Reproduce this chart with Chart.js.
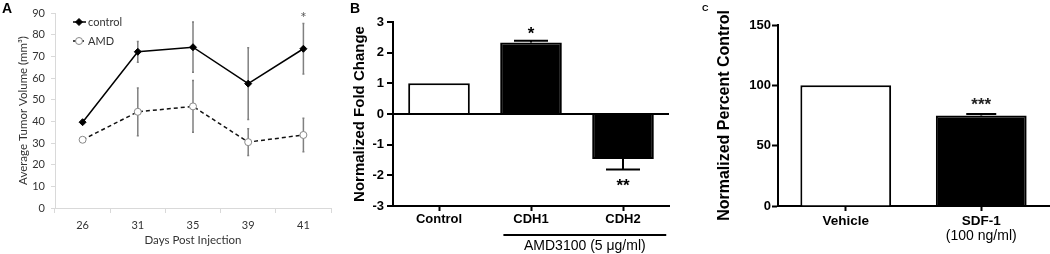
<!DOCTYPE html>
<html>
<head>
<meta charset="utf-8">
<script src="https://cdn.jsdelivr.net/npm/chart.js@4.4.0/dist/chart.umd.min.js"></script>
<style>
body { margin: 0; background: #fff; width: 1050px; height: 254px; overflow: hidden; position: relative; font-family: 'Liberation Sans', Arial, sans-serif; }
canvas { position: absolute; top: 0; }
.lbl { position: absolute; font-weight: bold; color: #000; line-height: 1; }
</style>
</head>
<body>
<canvas id="cA" width="345" height="254" style="left:0"></canvas>
<canvas id="cB" width="350" height="254" style="left:345px"></canvas>
<canvas id="cC" width="355" height="254" style="left:695px"></canvas>
<div class="lbl" style="left:2px;top:1px;font-size:14px">A</div>
<div class="lbl" style="left:350px;top:1px;font-size:14px">B</div>
<div class="lbl" style="left:702px;top:4px;font-size:9px">C</div>
<script>
// panel A - tumour volume
const daysA = ['26', '31', '35', '39', '41'];
const controlA = [39.6, 72.1, 74.2, 57.4, 73.5];
const controlErrA = [0, 4.8, 11.6, 16.6, 11.7];
const amdA = [31.5, 44.4, 46.9, 30.4, 33.7];
const amdErrA = [0, 11.0, 11.9, 6.2, 7.7];
const sigA = ['', '', '', '', '*'];

// panel B - fold change
const foldLabels = ['Control', 'CDH1', 'CDH2'];
const foldVals = [1.0, 2.33, -1.47];
const foldErr = [0, 0.06, 0.34];
const foldSig = ['', '*', '**'];
const groupLabel = 'AMD3100 (5 \u03bcg/ml)';
const groupSpan = [1, 2];

// panel C - percent control
const pctLabels = ['Vehicle', 'SDF-1'];
const pctSub = ['', '(100 ng/ml)'];
const pctVals = [100, 75.1];
const pctErr = [0, 1.1];
const pctSig = ['', '***'];

Chart.defaults.animation = false;
Chart.defaults.devicePixelRatio = 1;

const ARIAL = "'Liberation Sans', Arial, sans-serif";
const LATO = "Lato, 'Open Sans', sans-serif";

function drawErr(chart, o) {
    const ctx = chart.ctx, ys = chart.scales.y;
    chart.data.datasets.forEach((ds, di) => {
        const meta = chart.getDatasetMeta(di);
        meta.data.forEach((el, i) => {
            const v = ds.data[i], e = ds.err ? ds.err[i] : 0;
            const dir = v < 0 ? -1 : 1;
            const y1 = ys.getPixelForValue(v + dir * e);
            const y0 = ys.getPixelForValue(o.both ? v - dir * e : v);
            ctx.save();
            if (e) {
                ctx.strokeStyle = o.color; ctx.lineWidth = o.width;
                ctx.beginPath();
                ctx.moveTo(el.x, y0); ctx.lineTo(el.x, y1);
                ctx.moveTo(el.x - o.cap / 2, y1); ctx.lineTo(el.x + o.cap / 2, y1);
                if (o.both) { ctx.moveTo(el.x - o.cap / 2, y0); ctx.lineTo(el.x + o.cap / 2, y0); }
                ctx.stroke();
            }
            const s = ds.sig && ds.sig[i];
            if (s) {
                ctx.font = o.sigFont; ctx.fillStyle = o.sigColor;
                ctx.textAlign = 'center'; ctx.textBaseline = 'alphabetic';
                const yc = y1 - dir * o.sigGap;
                ctx.fillText(s, el.x, yc + 0.58 * o.sigSize);
            }
            ctx.restore();
        });
    });
}

const errBars = {
    id: 'errBars',
    beforeDatasetsDraw(chart, args, o) { if (o.before) drawErr(chart, o); },
    afterDatasetsDraw(chart, args, o) { if (!o.before) drawErr(chart, o); }
};

// small inset legend for panel A
const legendA = {
    id: 'legendA',
    afterDraw(chart) {
        const ctx = chart.ctx, a = chart.chartArea;
        chart.data.datasets.forEach((ds, i) => {
            const x = a.left + 18, y = a.top + 9 + i * 19;
            ctx.save();
            ctx.strokeStyle = ds.borderColor; ctx.lineWidth = ds.borderWidth;
            ctx.setLineDash(ds.borderDash || []);
            ctx.beginPath(); ctx.moveTo(x, y); ctx.lineTo(x + 13, y); ctx.stroke();
            ctx.setLineDash([]);
            ctx.fillStyle = ds.pointBackgroundColor;
            ctx.strokeStyle = ds.pointBorderColor; ctx.lineWidth = ds.pointBorderWidth;
            const r = ds.pointRadius, cx = x + 6;
            ctx.beginPath();
            if (ds.pointStyle === 'rectRot') {
                ctx.moveTo(cx, y - r); ctx.lineTo(cx + r, y); ctx.lineTo(cx, y + r); ctx.lineTo(cx - r, y); ctx.closePath();
            } else {
                ctx.arc(cx, y, r, 0, Math.PI * 2);
            }
            ctx.fill(); ctx.stroke();
            ctx.font = '11px ' + LATO; ctx.fillStyle = '#333';
            ctx.textAlign = 'left'; ctx.textBaseline = 'middle';
            ctx.fillText(ds.label, x + 15, y);
            ctx.restore();
        });
    }
};

new Chart(document.getElementById('cA'), {
    type: 'line',
    data: {
        labels: daysA,
        datasets: [
            { label: 'control', data: controlA, err: controlErrA, sig: sigA,
              borderColor: '#000', borderWidth: 1.5, pointStyle: 'rectRot', pointRadius: 3.5,
              pointBackgroundColor: '#000', pointBorderColor: '#000', pointBorderWidth: 1 },
            { label: 'AMD', data: amdA, err: amdErrA,
              borderColor: '#111', borderWidth: 1.5, borderDash: [4, 3], pointStyle: 'circle', pointRadius: 3.5,
              pointBackgroundColor: '#fff', pointBorderColor: '#888', pointBorderWidth: 1 }
        ]
    },
    options: {
        responsive: false,
        layout: { padding: { top: 13, right: 14, left: 0, bottom: 0 } },
        plugins: {
            legend: { display: false }, tooltip: { enabled: false },
            errBars: { before: true, both: true, color: '#808080', width: 1.5, cap: 2,
                       sigFont: '15px ' + LATO, sigColor: '#555', sigSize: 15, sigGap: 9 }
        },
        scales: {
            x: {
                offset: true,
                grid: { offset: true, drawOnChartArea: false, tickLength: 5, color: '#d9d9d9' },
                border: { color: '#d9d9d9', width: 1 },
                ticks: { color: '#333', font: { family: LATO, size: 11 }, padding: 6 },
                title: { display: true, text: 'Days Post Injection', color: '#333',
                         font: { family: LATO, size: 11.5 }, padding: { top: 0, bottom: 7 } },
                afterFit: s => { s.height = 46; }
            },
            y: {
                min: 0, max: 90,
                grid: { drawOnChartArea: false, tickLength: 4, color: '#d9d9d9' },
                border: { color: '#d9d9d9', width: 1 },
                ticks: { stepSize: 10, color: '#333', font: { family: LATO, size: 11 }, padding: 6 },
                title: { display: true, text: 'Average Tumor Volume (mm\u00b3)', color: '#333',
                         font: { family: LATO, size: 11.5 }, padding: { top: 16, bottom: 0 } },
                afterFit: s => { s.width = 55; }
            }
        }
    },
    plugins: [errBars, legendA]
});

// group bar under CDH1/CDH2
const groupB = {
    id: 'groupB',
    afterDraw(chart) {
        const ctx = chart.ctx, xs = chart.scales.x;
        const w = xs.getPixelForValue(1) - xs.getPixelForValue(0);
        const x0 = xs.getPixelForValue(groupSpan[0]) - 0.3 * w;
        const x1 = xs.getPixelForValue(groupSpan[1]) + 0.47 * w;
        ctx.save();
        ctx.strokeStyle = '#000'; ctx.lineWidth = 2;
        ctx.beginPath(); ctx.moveTo(x0, 235); ctx.lineTo(x1, 235); ctx.stroke();
        ctx.font = '14px ' + ARIAL; ctx.fillStyle = '#000';
        ctx.textAlign = 'center'; ctx.textBaseline = 'middle';
        ctx.fillText(groupLabel, (x0 + x1) / 2, 246);
        ctx.restore();
    }
};

new Chart(document.getElementById('cB'), {
    type: 'bar',
    data: {
        labels: foldLabels,
        datasets: [{ data: foldVals, err: foldErr, sig: foldSig,
                     backgroundColor: ['#fff', '#000', '#000'], borderColor: '#000', borderWidth: 2,
                     barPercentage: 0.67, categoryPercentage: 1 }]
    },
    options: {
        responsive: false,
        layout: { padding: { top: 22, right: 26, left: 0, bottom: 0 } },
        plugins: {
            legend: { display: false }, tooltip: { enabled: false },
            errBars: { before: false, both: false, color: '#000', width: 2, cap: 34,
                       sigFont: 'bold 17px ' + ARIAL, sigColor: '#000', sigSize: 17, sigGap: 12 }
        },
        scales: {
            x: {
                grid: { offset: false, drawOnChartArea: false, tickLength: 5, tickColor: '#000', tickWidth: 2 },
                border: { color: '#000', width: 2 },
                ticks: { color: '#000', font: { family: ARIAL, size: 13, weight: 'bold' }, padding: 1 },
                afterFit: s => { s.height = 48; }
            },
            y: {
                min: -3, max: 3,
                grid: { color: c => c.tick && c.tick.value === 0 ? '#000' : 'rgba(0,0,0,0)', lineWidth: 2,
                        tickLength: 6, tickColor: '#000', tickWidth: 2 },
                border: { color: '#000', width: 2 },
                ticks: { stepSize: 1, color: '#000', font: { family: ARIAL, size: 13, weight: 'bold' }, padding: 3 },
                title: { display: true, text: 'Normalized Fold Change', color: '#000',
                         font: { family: ARIAL, size: 15, weight: 'bold' }, padding: { top: 6, bottom: 0 } },
                afterFit: s => { s.width = 48; }
            }
        }
    },
    plugins: [errBars, groupB]
});

// second line under C tick labels
const subC = {
    id: 'subC',
    afterDraw(chart) {
        const ctx = chart.ctx, xs = chart.scales.x;
        ctx.save();
        ctx.font = '14px ' + ARIAL; ctx.fillStyle = '#000';
        ctx.textAlign = 'center'; ctx.textBaseline = 'middle';
        pctSub.forEach((t, i) => { if (t) ctx.fillText(t, xs.getPixelForValue(i), 236); });
        ctx.restore();
    }
};

new Chart(document.getElementById('cC'), {
    type: 'bar',
    data: {
        labels: pctLabels,
        datasets: [{ data: pctVals, err: pctErr, sig: pctSig,
                     backgroundColor: ['#fff', '#000'], borderColor: '#000', borderWidth: 2,
                     barPercentage: 0.67, categoryPercentage: 1 }]
    },
    options: {
        responsive: false,
        layout: { padding: { top: 25, right: 1, left: 0, bottom: 0 } },
        plugins: {
            legend: { display: false }, tooltip: { enabled: false },
            errBars: { before: false, both: false, color: '#000', width: 2, cap: 30,
                       sigFont: 'bold 17px ' + ARIAL, sigColor: '#222', sigSize: 17, sigGap: 14 }
        },
        scales: {
            x: {
                grid: { offset: false, drawOnChartArea: false, tickLength: 5, tickColor: '#000', tickWidth: 2 },
                border: { color: '#000', width: 2 },
                ticks: { color: '#000', font: { family: ARIAL, size: 13.5, weight: 'bold' }, padding: 2 },
                afterFit: s => { s.height = 48; }
            },
            y: {
                min: 0, max: 150,
                grid: { drawOnChartArea: false, tickLength: 6, tickColor: '#000', tickWidth: 2 },
                border: { color: '#000', width: 2 },
                ticks: { stepSize: 50, color: '#000', font: { family: ARIAL, size: 13, weight: 'bold' }, padding: 1 },
                title: { display: true, text: 'Normalized Percent Control', color: '#000',
                         font: { family: ARIAL, size: 16, weight: 'bold' }, padding: { top: 20, bottom: 0 } },
                afterFit: s => { s.width = 83; }
            }
        }
    },
    plugins: [errBars, subC]
});
</script>
</body>
</html>
